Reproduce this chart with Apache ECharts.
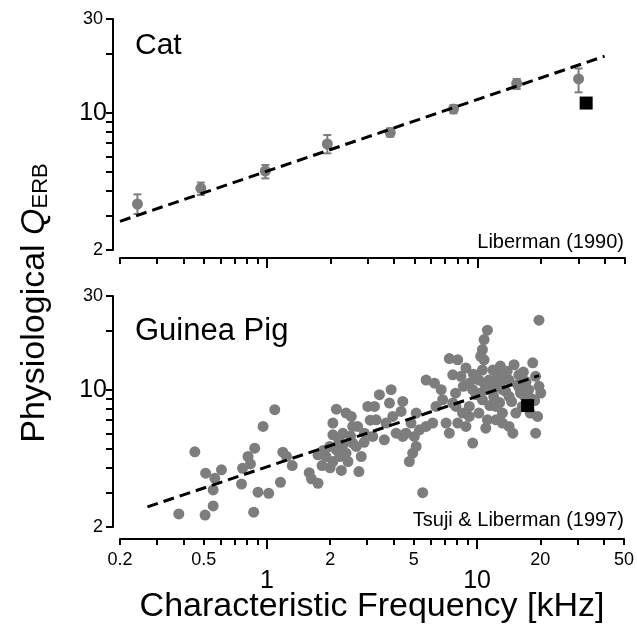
<!DOCTYPE html>
<html>
<head>
<meta charset="utf-8">
<script src="https://cdn.jsdelivr.net/npm/echarts@6/dist/echarts.min.js"></script>
<style>
  html, body { margin: 0; padding: 0; background: #fff; }
  #chart { width: 637px; height: 631px; }
</style>
</head>
<body>
<div id="chart"></div>
<script>
const FONT = '"Liberation Sans", Arial, Helvetica, sans-serif'
const GRAY = '#7d7d7d'

// axis ticks (kHz / Q)
const xMinorTicks = [0.2, 0.3, 0.4, 0.5, 0.6, 0.7, 0.8, 0.9, 2, 3, 4, 5, 6, 7, 8, 9, 20, 30, 40, 50]
const xMajorTicks = [1, 10]
const xSmallLabels = [0.2, 0.5, 2, 5, 20, 50]
const yTicks = [2, 3, 4, 5, 6, 7, 8, 9, 10, 20, 30]
const yLabels = [2, 10, 30]

// Cat, Liberman (1990): CF, mean Q, error bar low / high
const catCF = [0.242, 0.484, 0.98, 1.93, 3.84, 7.67, 15.3, 30.1]
const catQ = [3.43, 4.12, 5.05, 6.93, 7.92, 10.45, 14.1, 14.86]
const catLo = [3.05, 3.81, 4.63, 6.21, 7.55, 9.93, 13.2, 12.7]
const catHi = [3.84, 4.41, 5.42, 7.70, 8.33, 10.95, 14.86, 16.8]
const catSquare = [[32.7, 11.2]]
const catFit = [[0.2, 2.8], [40, 19.4]]

// Guinea pig, Tsuji & Liberman (1997): CF, Q
const gpCF = [
  0.454, 0.381, 0.508, 0.555, 0.511, 0.565, 0.608, 0.555, 0.757, 0.766, 0.813, 0.875, 0.835, 0.959, 1.09,
  0.907, 1.02, 0.865, 1.16, 1.19, 1.24, 1.32, 1.59, 1.63, 1.75, 1.75, 1.83, 2.06, 2.14, 2.06, 2.06, 2.26,
  2.22, 2.38, 2.38, 2.52, 2.56, 2.74, 2.81, 2.91, 3.02, 1.99, 2.14, 2.30, 2.56, 2.43, 1.91, 2.66, 2.7,
  5.51, 19.7, 11.2, 10.8, 10.6, 10.4, 7.38, 8.09, 7.66, 8.38, 8.85, 5.72, 6.27, 6.75, 9.18, 9.53, 10.6,
  11.9, 12.5, 13.2, 11.4, 10.2, 15.0, 18.4, 15.8, 17.1, 19.0, 20.1, 19.7, 19.4, 19.0, 14.8, 14.2, 13.2,
  12.3, 11.2, 11.0, 9.53, 7.38, 8.53, 9.18, 7.66, 6.86, 6.38, 5.13, 4.85, 4.59, 5.03, 5.32, 5.13, 4.94,
  4.76, 3.90, 3.83, 3.43, 3.25, 4.43, 4.35, 3.97, 3.69, 3.31, 3.62, 4.12, 4.43, 3.19, 6.15, 7.12, 7.93,
  10.6, 13.2, 14.2, 16.1, 9.18, 9.88, 11.2, 15.3, 16.4, 12.3, 13.2, 10.2, 8.85, 8.09, 11.9, 12.5, 14.2,
  15.6, 10.8, 5.72,
  9.9, 10.9, 12.0, 12.8, 13.7, 14.6, 15.9, 16.8, 17.6, 18.2, 11.5, 10.3, 13.9, 16.6, 12.9, 9.6, 8.6,
  7.9, 17.9, 18.8, 2.3, 2.5, 2.9, 3.1, 2.2, 1.85, 2.0
]
const gpQ = [
  4.83, 2.33, 2.30, 2.56, 3.76, 3.54, 3.91, 3.09, 3.31, 3.98, 4.57, 5.04, 4.19, 6.50, 7.91,
  3.01, 2.97, 2.38, 3.38, 4.81, 4.57, 4.11, 3.78, 3.52, 3.34, 4.66, 4.11, 4.31, 7.96, 6.76, 5.89, 3.88,
  4.57, 4.75, 7.60, 7.31, 6.50, 3.83, 4.57, 6.01, 8.22, 5.14, 4.94, 5.24, 5.35, 4.31, 4.57, 5.14, 6.5,
  2.99, 22.6, 20.1, 18.0, 16.0, 14.8, 14.4, 14.2, 11.9, 11.7, 12.9, 11.2, 10.8, 10.0, 10.8, 10.0, 12.6,
  12.6, 11.9, 11.2, 11.2, 11.2, 13.4, 13.7, 11.9, 11.0, 11.7, 9.62, 10.4, 7.31, 6.01, 6.01, 6.50, 7.60,
  8.22, 7.03, 6.37, 5.35, 6.01, 7.60, 7.31, 8.55, 8.89, 8.22, 7.60, 6.76, 6.01, 5.78, 6.25, 5.14, 4.75,
  4.31, 10.0, 8.55, 9.43, 8.22, 8.72, 7.75, 7.31, 6.76, 7.03, 5.56, 6.01, 5.78, 5.78, 6.76, 6.76, 8.22,
  8.89, 10.0, 9.24, 9.62, 8.22, 9.43, 10.0, 7.60, 8.22, 7.03, 6.76, 7.60, 6.50, 6.76, 10.0, 10.8, 11.2,
  10.6, 14.2, 6.5,
  11.5, 10.5, 9.2, 8.6, 9.8, 8.7, 10.2, 9.3, 10.0, 9.0, 8.3, 9.6, 12.4, 12.3, 13.2, 12.0, 10.4,
  9.6, 7.6, 8.8, 6.0, 5.8, 5.4, 7.0, 5.5, 4.9, 4.0
]
const gpSquare = [[17.4, 8.3]]
const gpFit = [[0.27, 2.53], [19.7, 11.8]]

const chart = echarts.init(document.getElementById('chart'))

const axisLine = { lineStyle: { color: '#000', width: 2 } }
const fmt = v => String(+(+v).toPrecision(3))

// two stacked x axes per panel: minor ticks + small labels, major ticks (1, 10) + big labels
const makeXAxes = (gridIndex, offset, withLabels) => [
  {
    type: 'log', logBase: 10, gridIndex, position: 'bottom', min: 0.2, max: 50, offset,
    axisLine,
    axisTick: { customValues: xMinorTicks, length: 6, lineStyle: { color: '#000', width: 2 } },
    axisLabel: withLabels
      ? { customValues: xSmallLabels, margin: 12, fontSize: 18, color: '#000', fontFamily: FONT, formatter: fmt }
      : { show: false },
    splitLine: { show: false }
  },
  {
    type: 'log', logBase: 10, gridIndex, position: 'bottom', min: 0.2, max: 50, offset,
    axisLine: { show: false },
    axisTick: { customValues: xMajorTicks, length: 10, lineStyle: { color: '#000', width: 2 } },
    axisLabel: withLabels
      ? { customValues: xMajorTicks, margin: 30, fontSize: 25, color: '#000', fontFamily: FONT, formatter: fmt }
      : { show: false },
    splitLine: { show: false }
  }
]

const makeYAxis = gridIndex => ({
  type: 'log', logBase: 10, gridIndex, position: 'left', min: 2, max: 30, offset: 7,
  axisLine,
  axisTick: { customValues: yTicks, length: 7, lineStyle: { color: '#000', width: 2 } },
  axisLabel: {
    customValues: yLabels, margin: 6, color: '#000', fontFamily: FONT,
    formatter: v => {
      const n = fmt(v)
      return n === '10' ? '{b|10}' : '{s|' + n + '}'
    },
    rich: {
      b: { fontSize: 25, fontFamily: FONT, color: '#000' },
      s: { fontSize: 18, fontFamily: FONT, color: '#000', padding: [0, 4, 0, 0] }
    }
  },
  splitLine: { show: false }
})

const errorBars = (xi, yi, cf, lo, hi) => ({
  type: 'custom', xAxisIndex: xi, yAxisIndex: yi,
  data: cf.map((f, i) => [f, lo[i], hi[i]]),
  encode: { x: 0, y: [1, 2] },
  renderItem: (params, api) => {
    const top = api.coord([api.value(0), api.value(2)])
    const bot = api.coord([api.value(0), api.value(1)])
    const w = 4
    const st = { stroke: GRAY, lineWidth: 2 }
    return {
      type: 'group',
      children: [
        { type: 'line', shape: { x1: top[0], y1: top[1], x2: bot[0], y2: bot[1] }, style: st },
        { type: 'line', shape: { x1: top[0] - w, y1: top[1], x2: top[0] + w, y2: top[1] }, style: st },
        { type: 'line', shape: { x1: bot[0] - w, y1: bot[1], x2: bot[0] + w, y2: bot[1] }, style: st }
      ]
    }
  }
})

const fitLine = (xi, yi, data) => ({
  type: 'line', xAxisIndex: xi, yAxisIndex: yi, data, symbol: 'none', z: 5,
  lineStyle: { color: '#000', width: 3, type: [11, 6] }
})

const square = (xi, yi, data) => ({
  type: 'scatter', xAxisIndex: xi, yAxisIndex: yi, symbol: 'rect', symbolSize: 13, z: 6,
  itemStyle: { color: '#000', opacity: 1 }, data
})

const text = (x, y, str, size, align) => ({
  type: 'text', x, y,
  style: { text: str, fontSize: size, fontFamily: FONT, fill: '#000', align, verticalAlign: 'middle' }
})

chart.setOption({
  animation: false,
  backgroundColor: '#fff',
  grid: [
    { left: 120, right: 12, top: 19, height: 231 },
    { left: 120, right: 12, top: 296, height: 231 }
  ],
  xAxis: [...makeXAxes(0, 8, false), ...makeXAxes(1, 12, true)],
  yAxis: [makeYAxis(0), makeYAxis(1)],
  series: [
    errorBars(0, 0, catCF, catLo, catHi),
    {
      type: 'scatter', xAxisIndex: 0, yAxisIndex: 0, symbolSize: 11,
      itemStyle: { color: GRAY, opacity: 1 },
      data: catCF.map((f, i) => [f, catQ[i]])
    },
    fitLine(0, 0, catFit),
    square(0, 0, catSquare),
    {
      type: 'scatter', xAxisIndex: 2, yAxisIndex: 1, symbolSize: 11,
      itemStyle: { color: GRAY, opacity: 1 },
      data: gpCF.map((f, i) => [f, gpQ[i]])
    },
    fitLine(2, 1, gpFit),
    square(2, 1, gpSquare)
  ],
  graphic: [
    text(135, 46, 'Cat', 30, 'left'),
    text(135, 331, 'Guinea Pig', 31, 'left'),
    text(624, 242, 'Liberman (1990)', 20, 'right'),
    text(624, 520, 'Tsuji & Liberman (1997)', 20, 'right'),
    text(372, 607, 'Characteristic Frequency [kHz]', 34, 'center'),
    {
      type: 'text', x: 35, y: 303, rotation: Math.PI / 2,
      style: {
        text: '{n|Physiological }{q|Q}{s|ERB}',
        align: 'center', verticalAlign: 'middle', fontFamily: FONT, fill: '#000',
        rich: {
          n: { fontSize: 34, fontFamily: FONT, lineHeight: 34 },
          q: { fontSize: 34, fontFamily: FONT, fontStyle: 'italic', lineHeight: 34 },
          s: { fontSize: 22, fontFamily: FONT, verticalAlign: 'bottom', lineHeight: 16 }
        }
      }
    }
  ]
})
</script>
</body>
</html>
